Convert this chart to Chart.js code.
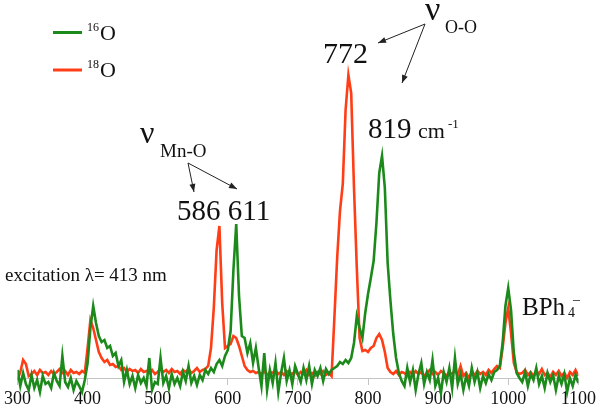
<!DOCTYPE html>
<html>
<head>
<meta charset="utf-8">
<script src="https://cdn.jsdelivr.net/npm/chart.js@4.4.1/dist/chart.umd.min.js"></script>
<style>
html,body{margin:0;padding:0;background:#fff;}
canvas{display:block;}
</style>
</head>
<body>
<canvas id="c" width="600" height="408"></canvas>
<script>
// Raman shift grid (cm-1), every 4 cm-1 from 300 to 1100
const wavenumbers = [];
for (let v = 300; v <= 1100; v += 4) wavenumbers.push(v);

const xTicks = [300, 400, 500, 600, 700, 800, 900, 1000, 1100];

// 16O spectrum (arbitrary intensity)
const o16 = [
  8,-8,5,-6,-12,3,-10,-2,-14,2,-6,-4,-10,5,-3,-8,22,-4,-9,0,-12,-3,-8,-14,-2,
  15,50,72,55,42,36,38,30,32,22,25,12,18,-4,8,-6,2,-10,3,-5,0,-8,20,-12,-4,-6,
  20,-5,2,-10,4,-6,0,-8,6,-3,12,-5,2,-7,3,-2,8,
  4,10,6,14,18,12,22,28,47,108,154,82,42,40,25,35,15,30,
  10,-8,25,-12,8,-5,15,-14,5,20,-3,8,-6,12,4,-4,10,-2,12,-6,8,2,10,-3,9,4,8,
  10,12,16,14,18,15,20,35,62,50,40,65,84,100,117,155,205,222,190,115,77,44,20,5,-3,
  -8,10,-4,8,-12,4,15,-6,6,-2,18,-8,0,-15,6,-4,10,-10,20,-6,4,-12,2,-8,10,-4,6,-10,2,-5,4,-2,6,8,
  12,35,72,90,68,25,5,0,
  -4,6,-8,4,-2,10,-6,2,-10,5,-4,3,-12,2,-6,4,-14,0,-8,3,-5
];

// 18O spectrum (arbitrary intensity)
const o18 = [
  -2,6,18,14,2,4,7,3,8,5,6,3,7,4,6,9,5,7,3,8,5,6,4,7,5,
  30,58,50,38,26,20,16,18,13,14,11,12,8,10,6,9,7,8,5,9,6,7,5,8,4,6,
  9,6,8,5,9,6,7,4,8,6,9,5,7,10,6,8,9,
  12,30,70,128,152,75,30,32,34,42,40,32,22,12,8,6,7,5,
  6,4,7,3,6,5,8,4,6,3,7,5,4,7,3,6,4,8,3,5,2,6,4,7,3,5,2,
  60,120,167,194,268,303,285,190,110,40,27,28,26,30,32,40,44,38,26,10,6,4,7,3,6,
  5,2,6,3,7,4,6,2,5,8,4,6,3,7,5,2,6,4,8,3,12,2,5,0,6,3,7,4,6,3,8,5,9,12,
  10,30,55,70,45,15,6,4,
  5,8,3,6,2,7,4,9,3,5,1,6,3,7,2,5,0,6,3,8,2
];

const GREEN = '#1b8a1b';
const RED = '#ff3d16';
const SERIF = '"Liberation Serif", "DejaVu Serif", serif';

function pts(vals) { return wavenumbers.map((x, i) => ({x: x, y: vals[i]})); }

function arrow(ctx, x1, y1, x2, y2) {
  ctx.beginPath();
  ctx.moveTo(x1, y1); ctx.lineTo(x2, y2);
  ctx.stroke();
  const a = Math.atan2(y2 - y1, x2 - x1);
  const L = 8, W = 3;
  ctx.beginPath();
  ctx.moveTo(x2, y2);
  ctx.lineTo(x2 - L*Math.cos(a) + W*Math.sin(a), y2 - L*Math.sin(a) - W*Math.cos(a));
  ctx.lineTo(x2 - L*Math.cos(a) - W*Math.sin(a), y2 - L*Math.sin(a) + W*Math.cos(a));
  ctx.closePath();
  ctx.fill();
}

const annotations = {
  id: 'annotations',
  afterDraw(chart) {
    const ctx = chart.ctx;
    ctx.save();
    ctx.fillStyle = '#111';
    ctx.strokeStyle = '#222';
    ctx.textBaseline = 'alphabetic';
    ctx.textAlign = 'left';
    const T = (s, x, y, size) => { ctx.font = size + 'px ' + SERIF; ctx.fillText(s, x, y); };

    // legend
    ctx.lineWidth = 3;
    ctx.strokeStyle = GREEN;
    ctx.beginPath(); ctx.moveTo(53, 32.5); ctx.lineTo(82, 32.5); ctx.stroke();
    ctx.strokeStyle = RED;
    ctx.beginPath(); ctx.moveTo(53, 70); ctx.lineTo(82, 70); ctx.stroke();
    T('16', 87, 31, 12); T('O', 100, 39.5, 22);
    T('18', 87, 68, 12); T('O', 100, 76.5, 22);

    // nu Mn-O
    T('\u03BD', 140, 143, 32);
    T('Mn-O', 160, 157, 19);
    ctx.strokeStyle = '#222'; ctx.fillStyle = '#222'; ctx.lineWidth = 1;
    arrow(ctx, 188, 163, 194, 192);
    arrow(ctx, 188, 163, 237, 189);
    ctx.fillStyle = '#111';
    T('586 611', 177, 220, 29);

    // nu O-O
    T('\u03BD', 425, 20, 34);
    T('O-O', 445, 33, 18);
    ctx.fillStyle = '#222';
    arrow(ctx, 425, 24, 378, 43);
    arrow(ctx, 425, 24, 402, 83);
    ctx.fillStyle = '#111';
    T('772', 323, 63, 30);
    T('819', 368, 138, 29);
    T('cm', 418, 138, 22);
    T('-1', 448, 128, 13);

    T('excitation \u03BB= 413 nm', 5, 281, 19);

    T('BPh', 522, 315, 25);
    T('4', 568, 317, 14);
    T('\u2013', 573, 304, 14);
    ctx.restore();
  }
};

new Chart(document.getElementById('c'), {
  type: 'line',
  data: {
    datasets: [
      {label: '16O', data: pts(o16), borderColor: GREEN, borderWidth: 2.6, pointRadius: 0, tension: 0, fill: false},
      {label: '18O', data: pts(o18), borderColor: RED, borderWidth: 2.6, pointRadius: 0, tension: 0, fill: false}
    ]
  },
  options: {
    responsive: false,
    animation: false,
    events: [],
    layout: {padding: {left: 16, right: 21.5, top: 48, bottom: 5}},
    plugins: {legend: {display: false}, tooltip: {enabled: false}, title: {display: false}},
    scales: {
      x: {
        type: 'linear', min: 300, max: 1100,
        position: {y: 0},
        afterBuildTicks(scale) { scale.ticks = xTicks.map(v => ({value: v})); },
        ticks: {autoSkip: false, maxRotation: 0, color: '#111', padding: 4,
                font: {family: SERIF, size: 18},
                callback: (v) => String(v)},
        grid: {drawOnChartArea: false, drawTicks: true, tickLength: 6, color: '#c4c4c4'},
        border: {display: true, color: '#c4c4c4', width: 1}
      },
      y: {display: false, min: -25, max: 330}
    }
  },
  plugins: [annotations]
});
</script>
</body>
</html>
